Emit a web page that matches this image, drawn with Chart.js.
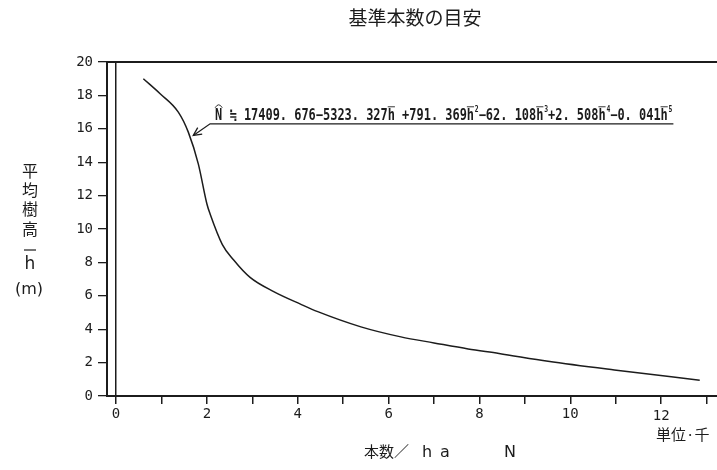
<!DOCTYPE html>
<html>
<head>
<meta charset="utf-8">
<script src="https://cdn.jsdelivr.net/npm/chart.js@4.4.1/dist/chart.umd.min.js"></script>
<style>
  html, body { margin: 0; padding: 0; background: #fff; overflow: hidden; }
  #wrap { width: 717px; height: 470px; }
</style>
</head>
<body>
<div id="wrap"><canvas id="c" width="717" height="470"></canvas></div>
<script>
// ---- data ----
const treesPerHa = [0.6, 0.97, 1.37, 1.59, 1.81, 2.0, 2.07, 2.34, 2.58, 2.95, 3.47, 4.06, 4.44, 5.39, 6.27, 7.0, 7.75, 8.43, 9.51, 10.97, 12.85];
const meanHeight = [19.0, 18.1, 17.0, 15.8, 13.9, 11.5, 10.9, 9.07, 8.17, 7.1, 6.25, 5.5, 5.05, 4.14, 3.54, 3.18, 2.82, 2.55, 2.08, 1.56, 0.95];
const xTickValues = [0, 1, 2, 3, 4, 5, 6, 7, 8, 9, 10, 11, 12, 13];
const xLabelValues = [0, 2, 4, 6, 8, 10, 12];
const yTickValues = [0, 2, 4, 6, 8, 10, 12, 14, 16, 18, 20];

const titleText = '基準本数の目安';
const yTitleChars = ['平', '均', '樹', '高'];
const unitText = '単位·千';
const eqParts = [
  { t: 'N', hat: true },
  { t: ' ≒ 17409. 676−5323. 327' }, { t: 'h', bar: true },
  { t: ' +791. 369' }, { t: 'h', bar: true }, { t: '2', sup: true },
  { t: '−62. 108' }, { t: 'h', bar: true }, { t: '3', sup: true },
  { t: '+2. 508' }, { t: 'h', bar: true }, { t: '4', sup: true },
  { t: '−0. 041' }, { t: 'h', bar: true }, { t: '5', sup: true }
];
// annotation anchors in data units
const eqLineStart = { n: 2.07, h: 16.3 };
const eqLineEndN = 12.27;
const eqArrowTip = { n: 1.70, h: 15.6 };

const INK = '#1c1c1c';
const CJK = '"Noto Sans CJK JP", "Noto Sans CJK SC", sans-serif';

const decorPlugin = {
  id: 'decor',
  afterDatasetsDraw(chart) {
    const ctx = chart.ctx;
    const a = chart.chartArea;
    const xs = chart.scales.x, ys = chart.scales.y;
    ctx.save();
    // frame (right side runs off the picture)
    ctx.strokeStyle = INK;
    ctx.lineWidth = 2;
    ctx.beginPath();
    ctx.moveTo(a.right + 2, a.top);
    ctx.lineTo(a.left, a.top);
    ctx.lineTo(a.left, a.bottom);
    ctx.lineTo(a.right + 2, a.bottom);
    ctx.stroke();

    // title
    ctx.fillStyle = INK;
    ctx.font = '19px ' + CJK;
    ctx.textAlign = 'center';
    ctx.textBaseline = 'middle';
    ctx.fillText(titleText, 415, 18);

    // y title (vertical stack)
    ctx.font = '16px ' + CJK;
    const yPos = [171, 190, 209, 229];
    yTitleChars.forEach((ch, i) => ctx.fillText(ch, 30, yPos[i]));
    ctx.font = '17px "DejaVu Sans", sans-serif';
    ctx.fillText('h', 30, 265);
    ctx.lineWidth = 1.2;
    ctx.beginPath(); ctx.moveTo(24, 250); ctx.lineTo(36, 250); ctx.stroke();
    ctx.font = '16px "DejaVu Sans", sans-serif';
    ctx.fillText('(m)', 29, 290);

    // x title (common alphabetic baseline)
    ctx.textAlign = 'left';
    ctx.textBaseline = 'alphabetic';
    ctx.font = '15px ' + CJK;
    ctx.fillText('本数／', 364, 457);
    ctx.font = '16px "DejaVu Sans", sans-serif';
    ctx.fillText('h', 422, 457);
    ctx.fillText('a', 440, 457);
    ctx.fillText('N', 504, 457);

    // unit
    ctx.textBaseline = 'middle';
    ctx.font = '15px ' + CJK;
    ctx.fillText(unitText, 656, 434);

    // equation annotation
    const lx0 = xs.getPixelForValue(eqLineStart.n);
    const ly = ys.getPixelForValue(eqLineStart.h);
    const lx1 = xs.getPixelForValue(eqLineEndN);
    const tx = xs.getPixelForValue(eqArrowTip.n);
    const ty = ys.getPixelForValue(eqArrowTip.h);
    ctx.lineWidth = 1.3;
    ctx.beginPath();
    ctx.moveTo(lx1, ly); ctx.lineTo(lx0, ly); ctx.lineTo(tx, ty);
    ctx.stroke();
    const ang = Math.atan2(ty - ly, tx - lx0);
    const hl = 9;
    ctx.beginPath();
    ctx.moveTo(tx - hl * Math.cos(ang - 0.45), ty - hl * Math.sin(ang - 0.45));
    ctx.lineTo(tx, ty);
    ctx.lineTo(tx - hl * Math.cos(ang + 0.45), ty - hl * Math.sin(ang + 0.45));
    ctx.stroke();

    // equation text
    const baseFont = 'bold 15px "DejaVu Sans Mono", monospace';
    const supFont = 'bold 8px "DejaVu Sans Mono", monospace';
    let total = 0;
    eqParts.forEach(p => { ctx.font = p.sup ? supFont : baseFont; p.w = ctx.measureText(p.t).width; total += p.w + (p.sup ? 1 : 0); });
    const startX = lx0 + 5, endX = lx1 - 1;
    const sx = (endX - startX) / total;
    ctx.save();
    ctx.translate(startX, ly - 4);
    ctx.scale(sx, 1);
    ctx.textBaseline = 'alphabetic';
    let cx = 0;
    eqParts.forEach(p => {
      if (p.sup) {
        ctx.font = supFont;
        ctx.fillText(p.t, cx + 1, -8);
        cx += p.w + 1;
        return;
      }
      ctx.font = baseFont;
      ctx.fillText(p.t, cx, 0);
      ctx.lineWidth = 1;
      if (p.bar) {
        ctx.beginPath(); ctx.moveTo(cx, -13); ctx.lineTo(cx + p.w, -13); ctx.stroke();
      }
      if (p.hat) {
        ctx.beginPath();
        ctx.moveTo(cx, -12);
        ctx.quadraticCurveTo(cx + p.w / 2, -18, cx + p.w, -12);
        ctx.stroke();
      }
      cx += p.w;
    });
    ctx.restore();
    ctx.restore();
  }
};

new Chart(document.getElementById('c'), {
  type: 'line',
  data: {
    datasets: [{
      data: treesPerHa.map((n, i) => ({ x: n, y: meanHeight[i] })),
      borderColor: INK,
      borderWidth: 1.5,
      pointRadius: 0,
      fill: false,
      cubicInterpolationMode: 'monotone'
    }]
  },
  options: {
    responsive: false,
    animation: false,
    devicePixelRatio: 1,
    layout: { padding: { top: 62, right: 0, left: 0, bottom: 0 } },
    plugins: { legend: { display: false }, tooltip: { enabled: false }, title: { display: false } },
    scales: {
      x: {
        type: 'linear',
        min: -0.2,
        max: 13.23,
        afterBuildTicks: s => { s.ticks = xTickValues.map(v => ({ value: v })); },
        afterFit: s => { s.height = 74; },
        border: { display: false },
        grid: {
          drawOnChartArea: true,
          color: c => (c.tick && c.tick.value === 0 ? INK : 'rgba(0,0,0,0)'),
          tickColor: INK,
          lineWidth: 1.5,
          tickLength: 8
        },
        ticks: {
          autoSkip: false,
          maxRotation: 0,
          padding: 2,
          color: INK,
          font: c => ({ family: '"DejaVu Sans Mono", monospace', size: 14, lineHeight: (c.tick && c.tick.value === 12) ? 1.5 : 1.2 }),
          callback: v => (xLabelValues.includes(v) ? String(v) : '')
        }
      },
      y: {
        type: 'linear',
        min: 0,
        max: 20,
        afterBuildTicks: s => { s.ticks = yTickValues.map(v => ({ value: v })); },
        afterFit: s => { s.width = 107; },
        border: { display: false },
        grid: { drawOnChartArea: false, tickColor: INK, lineWidth: 1.3, tickLength: 9 },
        ticks: {
          padding: 5,
          color: INK,
          font: { family: '"DejaVu Sans Mono", monospace', size: 14 }
        }
      }
    }
  },
  plugins: [decorPlugin]
});
</script>
</body>
</html>
